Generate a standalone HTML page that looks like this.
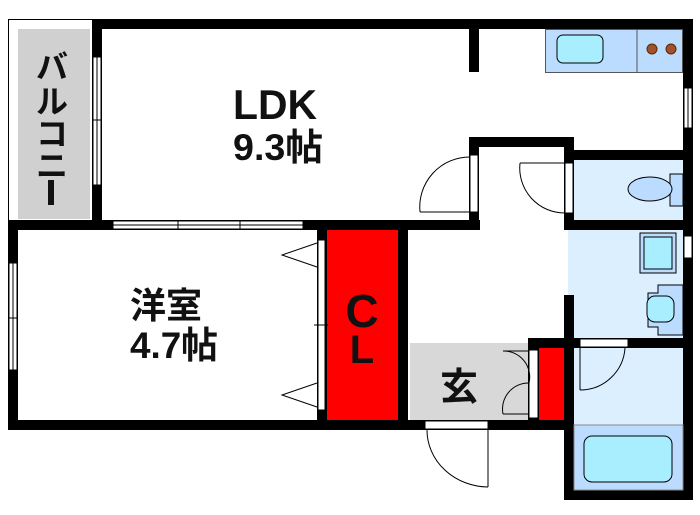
<!DOCTYPE html>
<html><head><meta charset="utf-8"><style>
html,body{margin:0;padding:0;background:#fff;}
svg{display:block}
text{font-family:"Liberation Sans","Noto Sans CJK JP",sans-serif;font-weight:bold;fill:#111}
</style></head><body>
<svg width="700" height="515" viewBox="0 0 700 515" xmlns="http://www.w3.org/2000/svg">
<rect x="8.5" y="19.5" width="84" height="201" fill="#fff" stroke="#000"/>
<rect x="18" y="29" width="72" height="190" fill="#d0d0d0"/>
<rect x="568" y="230" width="115" height="110" fill="#dcefff"/>
<rect x="574" y="160" width="109" height="60" fill="#dcefff"/>
<rect x="574" y="347" width="109" height="143" fill="#dcefff"/>
<rect x="410" y="343" width="118" height="77" fill="#d8d8d8"/>
<rect x="327" y="230" width="71" height="190" fill="#f00"/>
<rect x="539" y="348" width="25" height="72" fill="#f00"/>
<g fill="#000">
<rect x="92" y="19" width="601" height="10"/>
<rect x="683" y="19" width="10" height="481"/>
<rect x="92" y="19" width="10" height="201"/>
<rect x="8" y="220" width="472" height="10"/>
<rect x="8" y="220" width="10" height="210"/>
<rect x="8" y="420" width="556" height="10"/>
<rect x="317" y="220" width="10" height="210"/>
<rect x="398" y="230" width="10" height="200"/>
<rect x="469" y="19" width="10" height="53"/>
<rect x="469" y="137" width="105" height="10"/>
<rect x="469" y="137" width="10" height="93"/>
<rect x="564" y="137" width="10" height="93"/>
<rect x="574" y="150" width="109" height="10"/>
<rect x="564" y="220" width="119" height="10"/>
<rect x="564" y="295" width="10" height="205"/>
<rect x="528" y="338" width="155" height="10"/>
<rect x="528" y="338" width="11" height="90"/>
<rect x="564" y="490" width="129" height="10"/>
</g>
<g fill="#fff" stroke="#000" stroke-width="1">
<rect x="93" y="57" width="8" height="128"/>
<rect x="113" y="221" width="190" height="8"/>
<rect x="9" y="263" width="8" height="107"/>
<rect x="684" y="88" width="8" height="40"/>
<rect x="684" y="236" width="8" height="22"/>
<rect x="318" y="240" width="7" height="170"/>
<rect x="470" y="155" width="8" height="57"/>
<rect x="565" y="163" width="8" height="50"/>
<rect x="580" y="339" width="48" height="8"/>
<rect x="425" y="421" width="63" height="8"/>
<rect x="529" y="350" width="9" height="68"/>
</g>
<g fill="none" stroke="#000" stroke-width="1">
<line x1="97" y1="57" x2="97" y2="185"/><line x1="92" y1="120" x2="101" y2="120"/>
<line x1="113" y1="225" x2="303" y2="225"/><line x1="178" y1="220" x2="178" y2="230"/><line x1="240" y1="220" x2="240" y2="230"/>
<line x1="13" y1="263" x2="13" y2="370"/><line x1="8" y1="318" x2="18" y2="318"/>
<line x1="688" y1="88" x2="688" y2="128"/>
<line x1="314" y1="325" x2="328" y2="325"/>
<polyline points="317,243 282,255 317,267"/>
<polyline points="317,383 282,395 317,407"/>
<line x1="420" y1="212" x2="470" y2="212"/><path d="M420 212 A50 50 0 0 1 470 157"/>
<line x1="520" y1="163" x2="565" y2="163"/><path d="M520 163 A45 45 0 0 0 565 213"/>
<line x1="488" y1="430" x2="488" y2="487"/><path d="M427 430 A62 57 0 0 0 488 487"/>
<line x1="580" y1="348" x2="580" y2="390"/><path d="M580 390 A45 45 0 0 0 625 348"/>
<path d="M503 351 A26 26 0 0 1 529 383"/><path d="M503 414 A26 26 0 0 1 529 383"/>
<line x1="503" y1="351" x2="529" y2="351"/><line x1="503" y1="414" x2="529" y2="414"/>
</g>
<rect x="545.5" y="29.5" width="137" height="43" fill="#bcdcff" stroke="#555"/>
<line x1="637" y1="29" x2="637" y2="73" stroke="#555"/>
<rect x="557" y="35" width="46" height="28" rx="6" fill="#a8eeff" stroke="#000"/>
<circle cx="652" cy="49" r="5" fill="#a0522d" stroke="#5a2a00"/>
<circle cx="671" cy="49" r="5" fill="#a0522d" stroke="#5a2a00"/>
<rect x="670" y="174" width="13" height="32" fill="#bcdcff" stroke="#000"/>
<ellipse cx="650" cy="189" rx="22" ry="12" fill="#bcdcff" stroke="#000"/>
<rect x="640" y="233" width="36" height="40" fill="#bcdcff" stroke="#000"/>
<rect x="644" y="237" width="28" height="32" fill="#a8eeff" stroke="#000"/>
<path d="M658 285 H683 V335 H658 V327 H648 V293 H658 Z" fill="#bcdcff" stroke="#000"/>
<rect x="647" y="296" width="27" height="26" rx="8" fill="#a8eeff" stroke="#000"/>
<rect x="574" y="425" width="109" height="65" fill="#bcdcff" stroke="#888"/>
<rect x="584" y="436" width="88" height="46" rx="8" fill="#a8eeff" stroke="#000"/>
<text x="275" y="119" font-size="42" text-anchor="middle" textLength="84" lengthAdjust="spacingAndGlyphs">LDK</text>
<text x="278" y="160" font-size="37" text-anchor="middle" textLength="90" lengthAdjust="spacingAndGlyphs">9.3帖</text>
<text x="166" y="318" font-size="36" text-anchor="middle">洋室</text>
<text x="174" y="358" font-size="37" text-anchor="middle" textLength="88" lengthAdjust="spacingAndGlyphs">4.7帖</text>
<text x="362" y="327" font-size="46" text-anchor="middle" font-weight="normal">C</text>
<text x="362" y="363" font-size="40" text-anchor="middle" font-weight="normal">L</text>
<text x="459" y="400" font-size="38" text-anchor="middle">玄</text>
<text x="52" y="78" font-size="32" text-anchor="middle">バ</text>
<text x="52" y="113" font-size="32" text-anchor="middle">ル</text>
<text x="52" y="145" font-size="32" text-anchor="middle">コ</text>
<text x="52" y="177" font-size="32" text-anchor="middle">ニ</text>
<rect x="48" y="180" width="6" height="25" fill="#111"/>
</svg>
</body></html>
